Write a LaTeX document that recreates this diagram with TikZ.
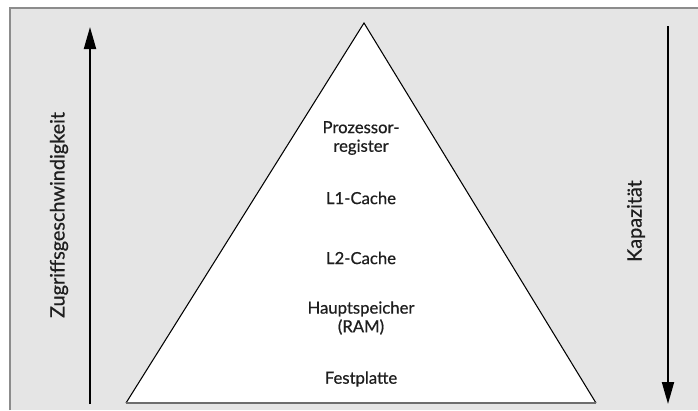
\documentclass[tikz,border=0pt]{standalone}
\usepackage{fontspec}
\setmainfont{Lato}
\newfontfamily\pyrfont{Lato}[FakeBold=0.6]
\usepackage{xcolor}
\usepackage{tikz}
\usetikzlibrary{arrows.meta, positioning, calc}
\definecolor{bggray}{RGB}{229,229,229}
\definecolor{framegray}{RGB}{140,140,140}
\definecolor{basegray}{RGB}{110,110,110}
\definecolor{textdark}{RGB}{30,30,30}

\begin{document}
\begin{tikzpicture}[x=0.02cm, y=-0.02cm,
    layer/.style={align=center, text=textdark, font=\pyrfont\fontsize{9.5pt}{10.6pt}\selectfont},
    sidelabel/.style={text=textdark, font=\pyrfont\fontsize{11.3pt}{12pt}\selectfont},
    bigarrow/.style={line width=1.1pt, -{Triangle[length=0.44cm, width=0.24cm]}}]
        \useasboundingbox (0,0) rectangle (698,410);

        % Hintergrund
        \fill[bggray] (10,8) rectangle (698,410);
        \draw[framegray, line width=0.6pt] (10,410) -- (10,8) -- (698,8);

        % Pyramide
        \coordinate (apex) at (364,23);
        \coordinate (baseL) at (126,403);
        \coordinate (baseR) at (596,403);
        \fill[white] (apex) -- (baseL) -- (baseR) -- cycle;
        \draw[black, line width=0.6pt] (baseL) -- (apex) -- (baseR);
        \draw[basegray, line width=1.1pt] (baseL) -- (baseR);

        % Ebenen
        \node[layer] (reg) at (361,138) {Prozessor-\\register};
        \node[layer] (lone) at (361,198) {L1-Cache};
        \node[layer] (ltwo) at (361,258) {L2-Cache};
        \node[layer] (ram) at (361,318) {Hauptspeicher\\(RAM)};
        \node[layer] (hdd) at (361,379) {Festplatte};

        % Pfeile links und rechts
        \coordinate (speedLow) at (90,404);
        \coordinate (speedHigh) at (90,27);
        \draw[bigarrow] (speedLow) -- (speedHigh);
        \node[sidelabel, rotate=90] (speed) at (59,215) {Zugriffsgeschwindigkeit};

        \coordinate (capLow) at (668,26);
        \coordinate (capHigh) at (668,404);
        \draw[bigarrow] (capLow) -- (capHigh);
        \node[sidelabel, rotate=90] (cap) at (636,221) {Kapazität};
    \end{tikzpicture}
\end{document}
